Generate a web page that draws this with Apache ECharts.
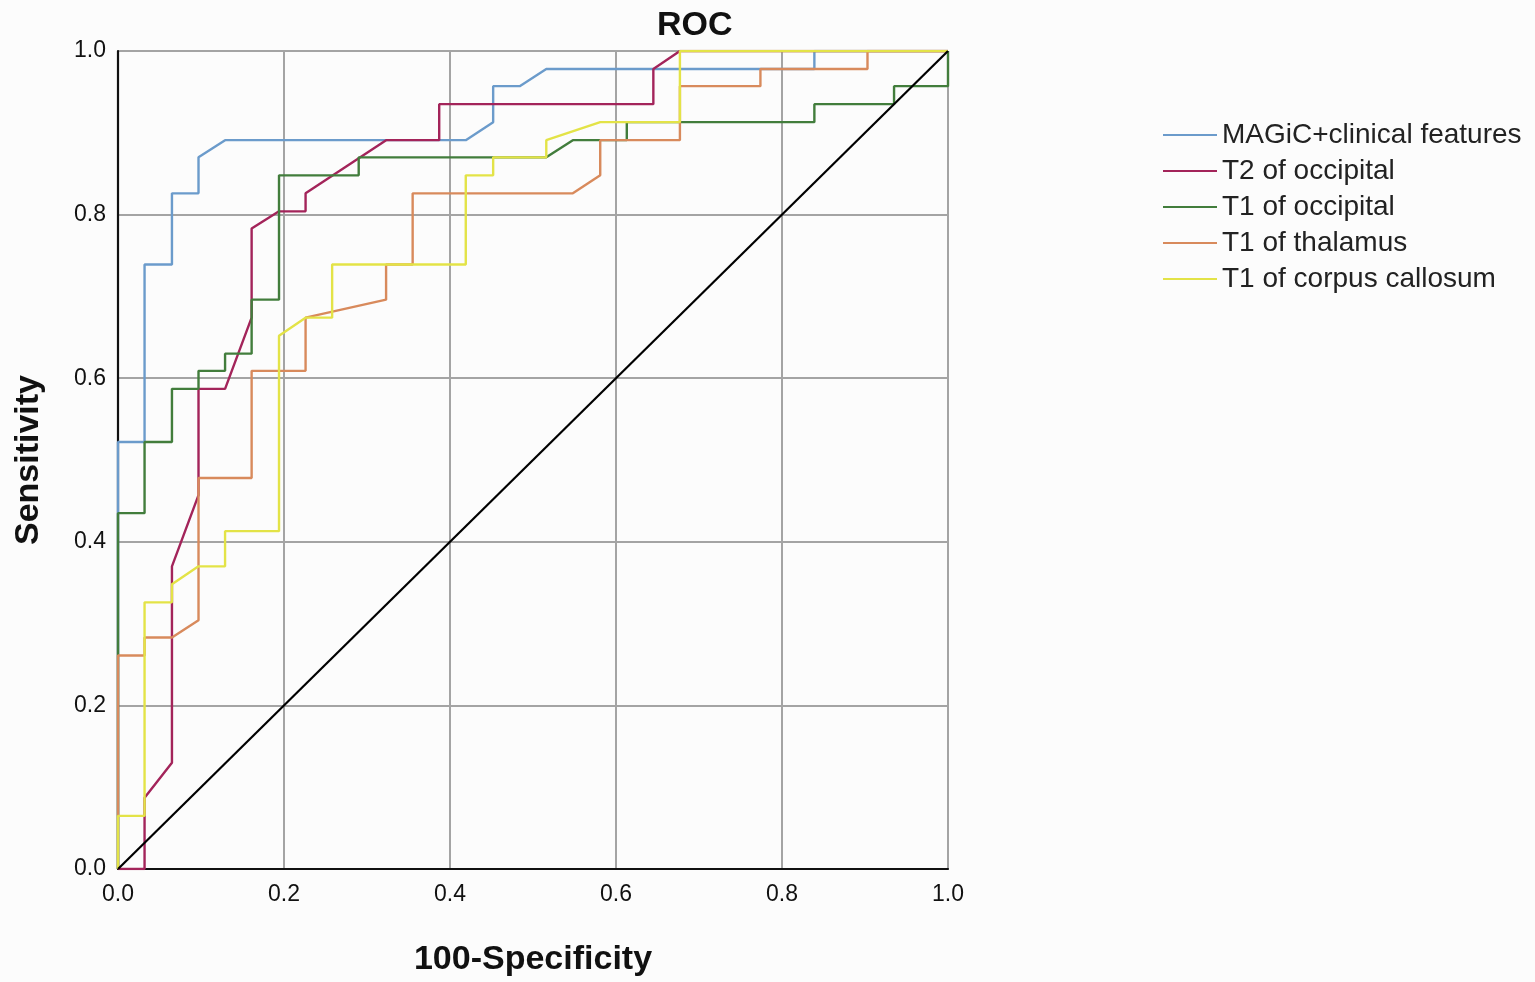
<!DOCTYPE html>
<html>
<head>
<meta charset="utf-8">
<title>ROC</title>
<script src="https://cdn.jsdelivr.net/npm/echarts@6/dist/echarts.min.js"></script>
<style>
  html, body { margin: 0; padding: 0; background: #fcfcfc; }
  #chart { width: 1535px; height: 982px; }
</style>
</head>
<body>
<div id="chart"></div>
<script>
'use strict';

// series names, in legend order
const seriesNames = ['MAGiC+clinical features', 'T2 of occipital', 'T1 of occipital', 'T1 of thalamus', 'T1 of corpus callosum'];
const tickValues = [0, 0.2, 0.4, 0.6, 0.8, 1.0];

// ROC points (x = 100-Specificity, y = Sensitivity)
const magicX = [0, 0, 0.032, 0.032, 0.065, 0.065, 0.097, 0.097, 0.129, 0.419, 0.452, 0.452, 0.484, 0.516, 0.839, 0.839, 1];
const magicY = [0, 0.522, 0.522, 0.739, 0.739, 0.826, 0.826, 0.870, 0.891, 0.891, 0.913, 0.957, 0.957, 0.978, 0.978, 1, 1];

const t2OccX = [0, 0.032, 0.032, 0.065, 0.065, 0.097, 0.097, 0.129, 0.161, 0.161, 0.194, 0.226, 0.226, 0.323, 0.387, 0.387, 0.645, 0.645, 0.677, 1];
const t2OccY = [0, 0, 0.087, 0.130, 0.370, 0.457, 0.587, 0.587, 0.674, 0.783, 0.804, 0.804, 0.826, 0.891, 0.891, 0.935, 0.935, 0.978, 1, 1];

const t1OccX = [0, 0, 0.032, 0.032, 0.065, 0.065, 0.097, 0.097, 0.129, 0.129, 0.161, 0.161, 0.194, 0.194, 0.290, 0.290, 0.516, 0.548, 0.613, 0.613, 0.839, 0.839, 0.935, 0.935, 1, 1];
const t1OccY = [0, 0.435, 0.435, 0.522, 0.522, 0.587, 0.587, 0.609, 0.609, 0.630, 0.630, 0.696, 0.696, 0.848, 0.848, 0.870, 0.870, 0.891, 0.891, 0.913, 0.913, 0.935, 0.935, 0.957, 0.957, 1];

const t1ThalX = [0, 0, 0.032, 0.032, 0.065, 0.097, 0.097, 0.161, 0.161, 0.226, 0.226, 0.323, 0.323, 0.355, 0.355, 0.548, 0.581, 0.581, 0.677, 0.677, 0.774, 0.774, 0.903, 0.903, 1];
const t1ThalY = [0, 0.261, 0.261, 0.283, 0.283, 0.304, 0.478, 0.478, 0.609, 0.609, 0.674, 0.696, 0.739, 0.739, 0.826, 0.826, 0.848, 0.891, 0.891, 0.957, 0.957, 0.978, 0.978, 1, 1];

const t1CcX = [0, 0, 0.032, 0.032, 0.065, 0.065, 0.097, 0.129, 0.129, 0.194, 0.194, 0.226, 0.258, 0.258, 0.419, 0.419, 0.452, 0.452, 0.516, 0.516, 0.581, 0.677, 0.677, 1];
const t1CcY = [0, 0.065, 0.065, 0.326, 0.326, 0.348, 0.370, 0.370, 0.413, 0.413, 0.652, 0.674, 0.674, 0.739, 0.739, 0.848, 0.848, 0.870, 0.870, 0.891, 0.913, 0.913, 1, 1];

const refX = [0, 1];
const refY = [0, 1];

const colors = ['#6b9bcb', '#a3245a', '#427d3c', '#d88a5c', '#e3e347'];
const FONT = '"Liberation Sans", Arial, sans-serif';

function zip(xs, ys) {
  return xs.map(function (x, i) { return [x, ys[i]]; });
}

const curves = [[magicX, magicY], [t2OccX, t2OccY], [t1OccX, t1OccY], [t1ThalX, t1ThalY], [t1CcX, t1CcY]];

const series = curves.map(function (c, i) {
  return {
    name: seriesNames[i],
    type: 'line',
    data: zip(c[0], c[1]),
    symbol: 'none',
    lineStyle: { color: colors[i], width: 2.4 },
    itemStyle: { color: colors[i] },
    animation: false
  };
});

series.push({
  name: 'reference',
  type: 'line',
  data: zip(refX, refY),
  symbol: 'none',
  lineStyle: { color: '#000', width: 2.2 },
  animation: false
});

function axisCommon() {
  return {
    type: 'value',
    min: tickValues[0],
    max: tickValues[tickValues.length - 1],
    interval: 0.2,
    axisLine: { show: true, lineStyle: { color: '#111', width: 2.2 } },
    axisTick: { show: false },
    splitLine: { show: true, lineStyle: { color: '#a4a4a4', width: 2 } },
    axisLabel: {
      color: '#111',
      fontFamily: FONT,
      fontSize: 23,
      formatter: function (v) { return v.toFixed(1); }
    },
    nameTextStyle: { color: '#111', fontFamily: FONT, fontSize: 34, fontWeight: 'bold' }
  };
}

const chart = echarts.init(document.getElementById('chart'));

const xAxis = axisCommon();
xAxis.name = '100-Specificity';
xAxis.nameLocation = 'middle';
xAxis.nameGap = 74;
xAxis.axisLabel.margin = 14;

const yAxis = axisCommon();
yAxis.name = 'Sensitivity';
yAxis.nameLocation = 'middle';
yAxis.nameGap = 72;
yAxis.axisLabel.margin = 12;

chart.setOption({
  backgroundColor: '#fcfcfc',
  animation: false,
  title: {
    text: 'ROC',
    left: 652,
    top: 4,
    textStyle: { color: '#111', fontFamily: FONT, fontSize: 34, fontWeight: 'bold' }
  },
  legend: {
    data: seriesNames,
    orient: 'vertical',
    left: 1158,
    top: 116,
    itemWidth: 54,
    itemHeight: 28,
    itemGap: 8,
    icon: 'path://M0,13 L54,13 L54,15 L0,15 Z',
    textStyle: { color: '#222', fontFamily: FONT, fontSize: 28, lineHeight: 28 }
  },
  grid: { left: 118, top: 51, right: 587, bottom: 113, containLabel: false, outerBoundsMode: 'none' },
  xAxis: xAxis,
  yAxis: yAxis,
  series: series
});
</script>
</body>
</html>
